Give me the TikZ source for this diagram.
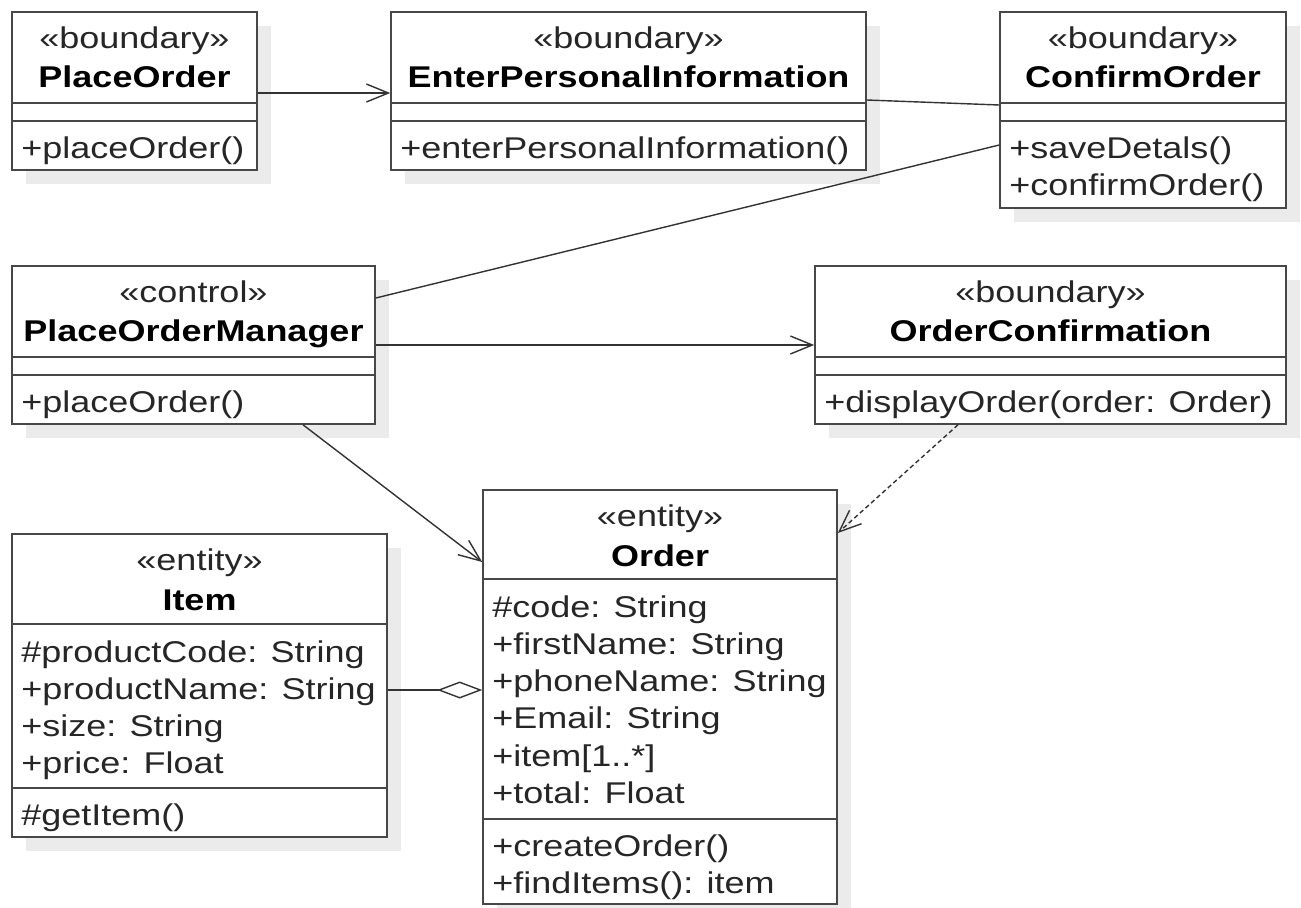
\documentclass[tikz,border=0pt]{standalone}
\usepackage{fontspec}
\setmainfont{Liberation Sans}[FakeStretch=1.2]
\usetikzlibrary{arrows.meta,fit}
\tikzset{
  shadowbox/.style={fill=black!8, draw=none},
  box/.style={draw=black!72, line width=0.9pt, fill=white, inner sep=0pt},
  sepline/.style={draw=black!72, line width=0.9pt},
  txt/.style={inner sep=0pt, text=black!85, font=\fontsize{17.07}{20.8}\selectfont},
  stereo/.style={txt, anchor=base},
  cname/.style={txt, anchor=base, text=black, font=\fontsize{17.07}{20.8}\selectfont\bfseries},
  member/.style={txt, anchor=base west},
  assoc/.style={draw=black!80, line width=0.8pt},
  nav/.style={assoc, -{Straight Barb[length=0.44cm,width=0.36cm]}},
  dep/.style={nav, dash pattern=on 0.09cm off 0.06cm},
  agg/.style={assoc, {Diamond[length=0.9cm,width=0.34cm,fill=white]}-}
}
\begin{document}
\begin{tikzpicture}[x=0.02cm,y=-0.02cm]
\useasboundingbox (0,0) rectangle (1301,907);
\fill[white] (0,0) rectangle (1301,907);

% ---------- PlaceOrder
\fill[shadowbox] (26,26) rectangle (271,184);
\node[box, fit={(12,12) (257,170)}] (po) {};
\draw[sepline] (12,103) -- (257,103) (12,121) -- (257,121);
\node[stereo] (po-s) at (134.5,48) {«boundary»};
\node[cname] (po-n) at (134.5,87) {PlaceOrder};
\node[member] (po-m1) at (21,158) {+placeOrder()};

% ---------- EnterPersonalInformation
\fill[shadowbox] (405,26) rectangle (880,184);
\node[box, fit={(391,12) (866,170)}] (epi) {};
\draw[sepline] (391,103) -- (866,103) (391,121) -- (866,121);
\node[stereo] (epi-s) at (628.5,48) {«boundary»};
\node[cname] (epi-n) at (628.5,87) {EnterPersonalInformation};
\node[member] (epi-m1) at (400,158) {+enterPersonalInformation()};

% ---------- ConfirmOrder
\fill[shadowbox] (1014,26) rectangle (1300,222);
\node[box, fit={(1000,12) (1286,208)}] (co) {};
\draw[sepline] (1000,103) -- (1286,103) (1000,121) -- (1286,121);
\node[stereo] (co-s) at (1143,48) {«boundary»};
\node[cname] (co-n) at (1143,87) {ConfirmOrder};
\node[member] (co-m1) at (1009,158) {+saveDetals()};
\node[member] (co-m2) at (1009,195) {+confirmOrder()};

% ---------- PlaceOrderManager
\fill[shadowbox] (26,280) rectangle (389,438);
\node[box, fit={(12,266) (375,424)}] (pom) {};
\draw[sepline] (12,357) -- (375,357) (12,375) -- (375,375);
\node[stereo] (pom-s) at (193.5,302) {«control»};
\node[cname] (pom-n) at (193.5,341) {PlaceOrderManager};
\node[member] (pom-m1) at (21,412) {+placeOrder()};

% ---------- OrderConfirmation
\fill[shadowbox] (829,280) rectangle (1300,438);
\node[box, fit={(815,266) (1286,424)}] (oc) {};
\draw[sepline] (815,357) -- (1286,357) (815,375) -- (1286,375);
\node[stereo] (oc-s) at (1050.5,302) {«boundary»};
\node[cname] (oc-n) at (1050.5,341) {OrderConfirmation};
\node[member] (oc-m1) at (824,412) {+displayOrder(order: Order)};

% ---------- Item
\fill[shadowbox] (26,548) rectangle (401,851);
\node[box, fit={(12,534) (387,837)}] (item) {};
\draw[sepline] (12,624) -- (387,624) (12,788) -- (387,788);
\node[stereo] (item-s) at (199.5,570) {«entity»};
\node[cname] (item-n) at (199.5,610) {Item};
\node[member] (item-a1) at (21,662) {\#productCode: String};
\node[member] (item-a2) at (21,699) {+productName: String};
\node[member] (item-a3) at (21,736) {+size: String};
\node[member] (item-a4) at (21,773) {+price: Float};
\node[member] (item-m1) at (21,825) {\#getItem()};

% ---------- Order
\fill[shadowbox] (497,504) rectangle (851,918);
\node[box, fit={(483,490) (837,904)}] (order) {};
\draw[sepline] (483,579) -- (837,579) (483,819) -- (837,819);
\node[stereo] (order-s) at (660,526) {«entity»};
\node[cname] (order-n) at (660,566) {Order};
\node[member] (order-a1) at (492,617) {\#code: String};
\node[member] (order-a2) at (492,654) {+firstName: String};
\node[member] (order-a3) at (492,691) {+phoneName: String};
\node[member] (order-a4) at (492,728) {+Email: String};
\node[member] (order-a5) at (492,766) {+item[1..*]};
\node[member] (order-a6) at (492,803) {+total: Float};
\node[member] (order-m1) at (492,856) {+createOrder()};
\node[member] (order-m2) at (492,893) {+findItems(): item};

% ---------- connectors
\draw[nav] (po.east |- 0,93) -- (epi.west |- 0,93);
\draw[assoc] (epi.east |- 0,100) -- (co.west |- 0,105);
\draw[assoc] (co.west |- 0,145) -- (pom.east |- 0,298);
\draw[nav] (pom.east |- 0,345) -- (oc.west |- 0,345);
\draw[nav] (pom.south -| 303,0) -- (order.west |- 0,562);
\draw[dep] (oc.south -| 958,0) -- (order.east |- 0,533);
\draw[agg] (order.west |- 0,690) -- (item.east |- 0,690);
\end{tikzpicture}
\end{document}
